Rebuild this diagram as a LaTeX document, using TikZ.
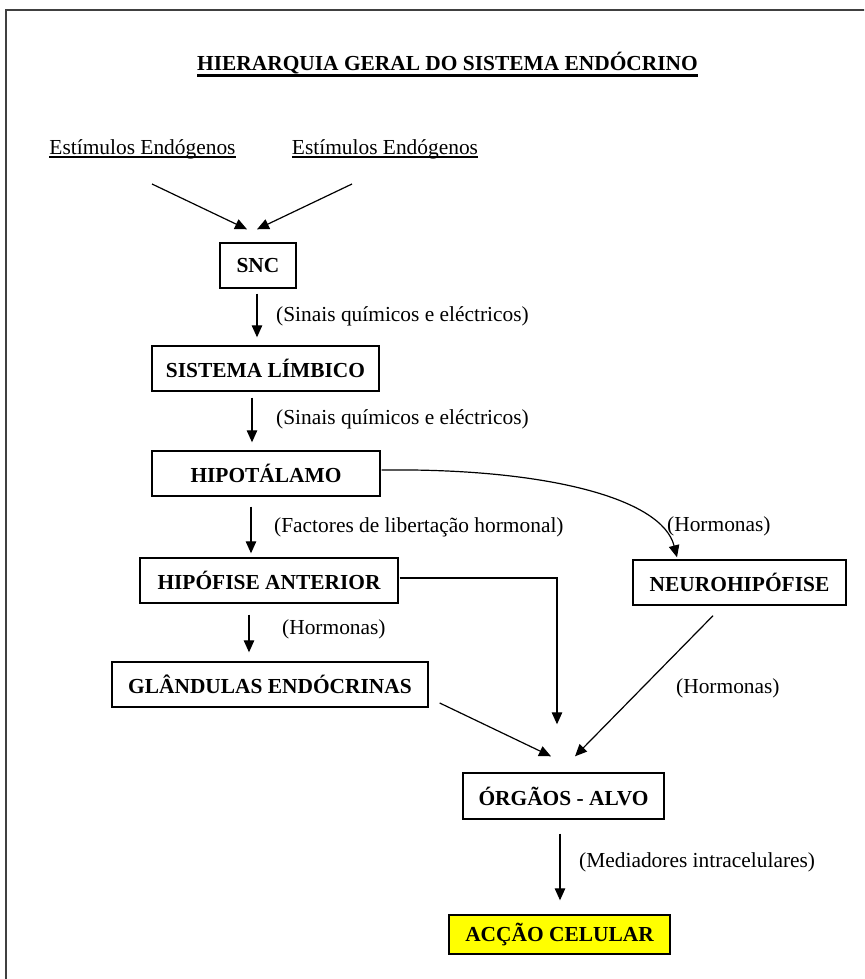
\documentclass[tikz,border=0pt]{standalone}
\usepackage{fontspec}
\setmainfont{Liberation Serif}
\usetikzlibrary{arrows.meta,calc}
\definecolor{FrameGrey}{HTML}{404040}
\definecolor{AccaoYellow}{HTML}{FFFF00}

\begin{document}
\begin{tikzpicture}[
  x=1pt, y=-1pt,
  font=\fontsize{21.4}{25}\selectfont,
  >={Triangle[length=12pt,width=10.5pt]},
  caixa/.style={
    draw=black,
    line width=1.4pt,
    minimum height=45pt,
    inner sep=0pt,
    align=center,
    font=\fontsize{21.4}{25}\selectfont\bfseries
  },
  rotulo/.style={anchor=west,inner sep=0pt},
  texto/.style={anchor=base,inner sep=0pt},
  seta/.style={->,line width=1.2pt},
  sublinha/.style={line width=1.2pt}
]
\useasboundingbox (0,0) rectangle (864,979);
\clip (0,0) rectangle (864,979);

% page frame
\draw[FrameGrey,line width=2pt] (5.5,990) -- (5.5,10) -- (880,10);

% title and inputs
\node[texto,font=\fontsize{21.4}{25}\selectfont\bfseries] (titulo) at (447.5,71)
  {HIERARQUIA GERAL DO SISTEMA ENDÓCRINO};
\draw[line width=2.4pt] ([yshift=-4.5pt]titulo.base west) -- ([yshift=-4.5pt]titulo.base east);

\node[texto] (est1) at (142.5,154) {Estímulos Endógenos};
\node[texto] (est2) at (385,154) {Estímulos Endógenos};
\draw[sublinha] ([yshift=-3pt]est1.base west) -- ([yshift=-3pt]est1.base east);
\draw[sublinha] ([yshift=-3pt]est2.base west) -- ([yshift=-3pt]est2.base east);

\coordinate (e1) at (152,184);
\coordinate (e2) at (352,184);

% boxes
\node[caixa,minimum width=76pt] (snc) at (258,265.5) {SNC};
\node[caixa,minimum width=227pt] (limbico) at (265.5,368.5) {SISTEMA LÍMBICO};
\node[caixa,minimum width=228pt] (hipot) at (266,473.5) {HIPOTÁLAMO};
\node[caixa,minimum width=258pt] (hipofise) at (269,580.5) {HIPÓFISE ANTERIOR};
\node[caixa,minimum width=213pt] (neuro) at (739.5,582.5) {NEUROHIPÓFISE};
\node[caixa,minimum width=316pt] (glandulas) at (270,684.5) {GLÂNDULAS ENDÓCRINAS};
\node[caixa,minimum width=201pt,minimum height=46pt] (orgaos) at (563.5,796) {ÓRGÃOS - ALVO};
\node[caixa,minimum width=221pt,minimum height=39pt,fill=AccaoYellow] (accao) at (559.5,934.5)
  {ACÇÃO CELULAR};

% arrows
\draw[seta] (e1) -- ($(snc.north)+(-11,-13)$);
\draw[seta] (e2) -- ($(snc.north)+(-1,-13)$);
\draw[seta] ($(snc.south)+(-1,5)$) -- ($(limbico.north)+(-8.5,-8)$);
\draw[seta] ($(limbico.south)+(-13.5,6)$) -- ($(hipot.north)+(-14,-8)$);
\draw[seta] ($(hipot.south)+(-15,10)$) -- ($(hipofise.north)+(-18,-4)$);
\draw[seta] ($(hipofise.south)+(-20,11)$) -- ($(glandulas.north)+(-21,-9)$);
\draw[seta] ($(hipot.east)+(1,-3.5)$) .. controls (545,468) and (662,498) .. ($(neuro.north)+(-62.5,-2)$);
\draw[seta] ($(hipofise.east)+(1,-2.5)$) -| ($(orgaos.north)+(-6.5,-48)$);
\draw[seta] ($(glandulas.east)+(11,18.5)$) -- ($(orgaos.north)+(-12.5,-16)$);
\draw[seta] ($(neuro.south)+(-26.5,10)$) -- ($(orgaos.north)+(11.5,-16)$);
\draw[seta] ($(orgaos.south)+(-3.5,14)$) -- ($(accao.north)+(0.5,-14)$);

% labels
\node[rotulo] (sinais1) at (276,316) {(Sinais químicos e eléctricos)};
\node[rotulo] (sinais2) at (276,419) {(Sinais químicos e eléctricos)};
\node[rotulo] (factores) at (274,527) {(Factores de libertação hormonal)};
\node[rotulo] (horm1) at (282,629) {(Hormonas)};
\node[rotulo] (horm2) at (667,526) {(Hormonas)};
\node[rotulo] (horm3) at (676,688) {(Hormonas)};
\node[rotulo] (mediadores) at (579,862) {(Mediadores intracelulares)};
\end{tikzpicture}
\end{document}
